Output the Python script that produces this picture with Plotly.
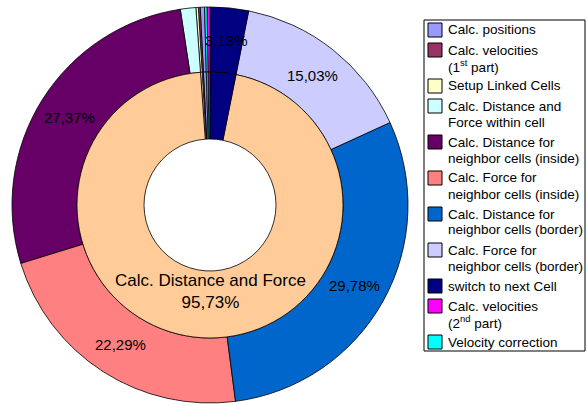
import math
import plotly.graph_objects as go

W, H = 587, 404

# ---------------- data ----------------
outer_labels = [
    "Calc. positions",
    "Calc. velocities<br>(1<sup>st</sup> part)",
    "Setup Linked Cells",
    "Calc. Distance and<br>Force within cell",
    "Calc. Distance for<br>neighbor cells (inside)",
    "Calc. Force for<br>neighbor cells (inside)",
    "Calc. Distance for<br>neighbor cells (border)",
    "Calc. Force for<br>neighbor cells (border)",
    "switch to next Cell",
    "Calc. velocities<br>(2<sup>nd</sup> part)",
    "Velocity correction",
]
outer_values = [0.35, 0.15, 0.20, 1.26, 27.37, 22.29, 29.78, 15.03, 3.13, 0.24, 0.20]
outer_colors = ["#9999FF", "#993366", "#FFFFCC", "#CCFFFF", "#660066", "#FF8080",
                "#0066CC", "#CCCCFF", "#000080", "#FF00FF", "#00FFFF"]
outer_labelled = [False, False, False, False, True, True, True, True, True, False, False]

inner_labels = ["Calc. positions", "Calc. velocities (1st part)", "Setup Linked Cells",
                "Calc. Distance and Force", "switch to next Cell",
                "Calc. velocities (2nd part)", "Velocity correction"]
inner_values = [0.35, 0.15, 0.20, 95.73, 3.13, 0.24, 0.20]
inner_colors = ["#9999FF", "#993366", "#FFFFCC", "#FFCC99", "#000080", "#FF00FF", "#00FFFF"]
inner_title_index = 3

# ---------------- style / layout ----------------
FONT = "Liberation Sans, Arial, sans-serif"
CX, CY = 210, 205           # donut centre (px)
R_OUT, R_MID, R_HOLE = 198, 133, 66


def px_x(x):
    return x / W


def px_y(y):
    return 1 - y / H


def clamp(v):
    return min(1.0, max(0.0, v))


total = sum(outer_values)
# first slice placed so that "switch to next Cell" starts at 12 o'clock
rot = -(outer_values[0] + outer_values[-1] + outer_values[-2]) / total * 360

fig = go.Figure()
fig.add_trace(go.Pie(
    labels=outer_labels, values=outer_values, sort=False, direction="counterclockwise",
    rotation=rot, hole=R_MID / R_OUT,
    marker=dict(colors=outer_colors, line=dict(color="black", width=0.8)),
    textinfo="none", hoverinfo="label+percent", showlegend=False,
    domain=dict(x=[clamp(px_x(CX - R_OUT)), clamp(px_x(CX + R_OUT))],
                y=[clamp(px_y(CY + R_OUT)), clamp(px_y(CY - R_OUT))]),
))
fig.add_trace(go.Pie(
    labels=inner_labels, values=inner_values, sort=False, direction="counterclockwise",
    rotation=rot, hole=R_HOLE / R_MID,
    marker=dict(colors=inner_colors, line=dict(color="black", width=0.8)),
    textinfo="none", hoverinfo="label+percent", showlegend=False,
    domain=dict(x=[px_x(CX - R_MID), px_x(CX + R_MID)],
                y=[px_y(CY + R_MID), px_y(CY - R_MID)]),
))


def pct(v):
    return f"{v:.2f}%".replace(".", ",")


def mid_angles(values):
    """Mid angle (deg, clockwise from 12 o'clock) of each slice, same layout as plotly."""
    tot = sum(values)
    mids = []
    cur = rot + values[0] / tot * 360
    for v in values:
        a = v / tot * 360
        mids.append(cur - a / 2)
        cur -= a
    return mids


annotations = []
shapes = []

# percentage labels of the outer ring: centred in the ring at the slice mid angle
r_lab = (R_OUT + R_MID) / 2
for v, show, th in zip(outer_values, outer_labelled, mid_angles(outer_values)):
    if show:
        t = math.radians(th)
        x = CX + r_lab * math.sin(t)
        y = CY - r_lab * math.cos(t)
        annotations.append(dict(x=px_x(x), y=px_y(y), xref="paper", yref="paper",
                                text=pct(v), showarrow=False, xanchor="center",
                                yanchor="middle", font=dict(family=FONT, size=15, color="black")))

# inner ring label (two lines)
ix, iy = 210, 291
annotations.append(dict(x=px_x(ix), y=px_y(iy), xref="paper", yref="paper",
                        text=inner_labels[inner_title_index] + "<br>" +
                        pct(inner_values[inner_title_index]),
                        showarrow=False, xanchor="center", yanchor="middle", align="center",
                        font=dict(family=FONT, size=17, color="black")))

# legend (box, symbols, text lines)
LX0, LY0, LX1, LY1 = 424, 20, 585, 351
shapes.append(dict(type="rect", xref="paper", yref="paper",
                   x0=px_x(LX0), x1=px_x(LX1), y0=px_y(LY1), y1=px_y(LY0),
                   line=dict(color="black", width=1), fillcolor="white", layer="below"))
y = 30
PITCH, GAP, SYM = 16, 4, 14
for lab, col in zip(outer_labels, outer_colors):
    lines = lab.split("<br>")
    shapes.append(dict(type="rect", xref="paper", yref="paper",
                       x0=px_x(428), x1=px_x(428 + SYM),
                       y0=px_y(y + SYM / 2), y1=px_y(y - SYM / 2),
                       line=dict(color="black", width=1), fillcolor=col))
    for k, ln in enumerate(lines):
        annotations.append(dict(x=px_x(446), y=px_y(y + k * PITCH), xref="paper", yref="paper",
                                text=ln, showarrow=False, xanchor="left", yanchor="middle",
                                font=dict(family=FONT, size=13.5, color="black")))
    y += PITCH * len(lines) + GAP

fig.update_layout(
    width=W, height=H, margin=dict(l=0, r=0, t=0, b=0),
    paper_bgcolor="white", plot_bgcolor="white",
    annotations=annotations, shapes=shapes, showlegend=False,
    font=dict(family=FONT),
)

fig.write_html("out.html", config={"displayModeBar": False},
               post_script="document.body.style.margin='0px';document.body.style.overflow='hidden';")
